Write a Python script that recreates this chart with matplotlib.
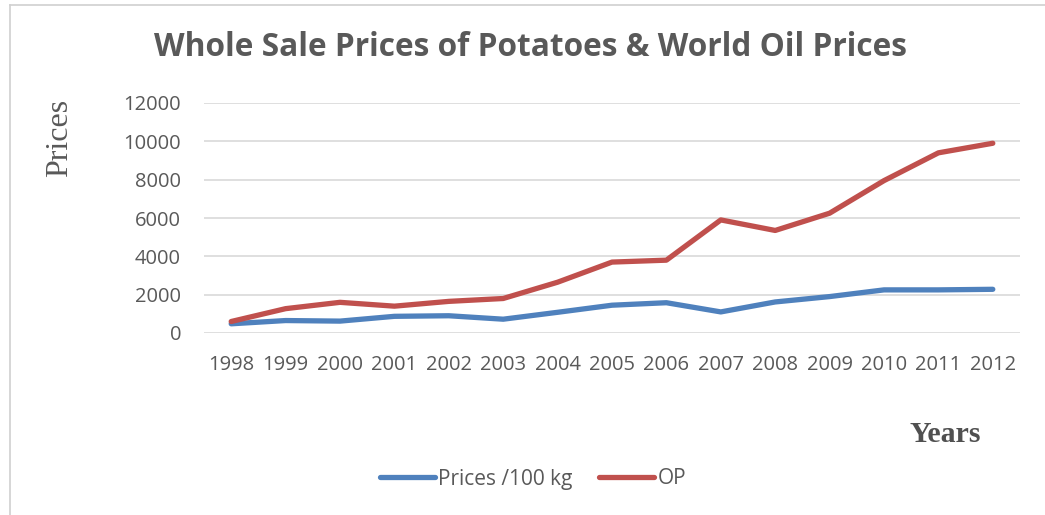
import matplotlib
matplotlib.use("Agg")
import matplotlib.pyplot as plt
from matplotlib.lines import Line2D

# data
years = ["1998", "1999", "2000", "2001", "2002", "2003", "2004", "2005",
         "2006", "2007", "2008", "2009", "2010", "2011", "2012"]
potato_prices = [480, 650, 620, 870, 900, 720, 1080, 1450,
                 1580, 1100, 1620, 1900, 2250, 2250, 2280]
oil_prices = [600, 1270, 1600, 1400, 1650, 1800, 2650, 3700,
              3800, 5900, 5350, 6250, 7950, 9400, 9900]
y_ticks = [0, 2000, 4000, 6000, 8000, 10000, 12000]

W, H = 1045, 515
text_gray = "#595959"
sans = ["Open Sans", "DejaVu Sans"]
serif = ["Liberation Serif", "DejaVu Serif"]

fig = plt.figure(figsize=(W / 100, H / 100), dpi=100)

# outer chart frame (only left and top edges are visible in the crop)
frame_x, frame_y = 9.5 / W, 1 - 4.5 / H
fig.lines.append(Line2D([frame_x, frame_x], [0, frame_y], transform=fig.transFigure,
                        color="#D0D0D0", linewidth=1.2))
fig.lines.append(Line2D([frame_x, 1], [frame_y, frame_y], transform=fig.transFigure,
                        color="#D0D0D0", linewidth=1.2))

ax = fig.add_axes([204 / W, (H - 333) / H, 816 / W, 230 / H])
x = range(len(years))
ax.plot(x, potato_prices, color="#4F81BD", linewidth=3.8, solid_capstyle="round",
        solid_joinstyle="round", label="Prices /100 kg", zorder=3)
ax.plot(x, oil_prices, color="#C0504D", linewidth=3.8, solid_capstyle="round",
        solid_joinstyle="round", label="OP", zorder=3)

ax.set_xlim(-0.5, len(years) - 0.5)
ax.set_ylim(0, 12000)
ax.set_xticks(list(x))
ax.set_xticklabels(years)
ax.set_yticks(y_ticks)
ax.set_yticklabels([str(v) for v in y_ticks])
ax.tick_params(length=0, labelsize=14.5, labelcolor=text_gray)
ax.tick_params(axis="y", pad=16.5)
ax.tick_params(axis="x", pad=16)
for lab in ax.get_xticklabels() + ax.get_yticklabels():
    lab.set_family(sans)
ax.grid(axis="y", color="#D9D9D9", linewidth=1.2)
ax.set_axisbelow(True)
for s in ax.spines.values():
    s.set_visible(False)

fig.text(530 / W, 1 - 48 / H, "Whole Sale Prices of Potatoes & World Oil Prices",
         ha="center", va="center", fontsize=22.8, fontweight="bold",
         color=text_gray, family=sans)
fig.text(60 / W, 1 - 138 / H, "Prices", rotation=90, ha="center", va="center",
         fontsize=23, color=text_gray, family=serif)
fig.text(945.5 / W, 1 - 435 / H, "Years", ha="center", va="center",
         fontsize=21.5, fontweight="bold", color="#505050", family=serif)

leg = fig.legend(loc="center", bbox_to_anchor=(533 / W, 1 - 479 / H), ncol=2,
                 frameon=False, handlelength=2.64, handletextpad=0.15,
                 columnspacing=1.3, prop={"family": sans, "size": 15})
for t in leg.get_texts():
    t.set_color(text_gray)

fig.savefig("out.png", dpi=100)
